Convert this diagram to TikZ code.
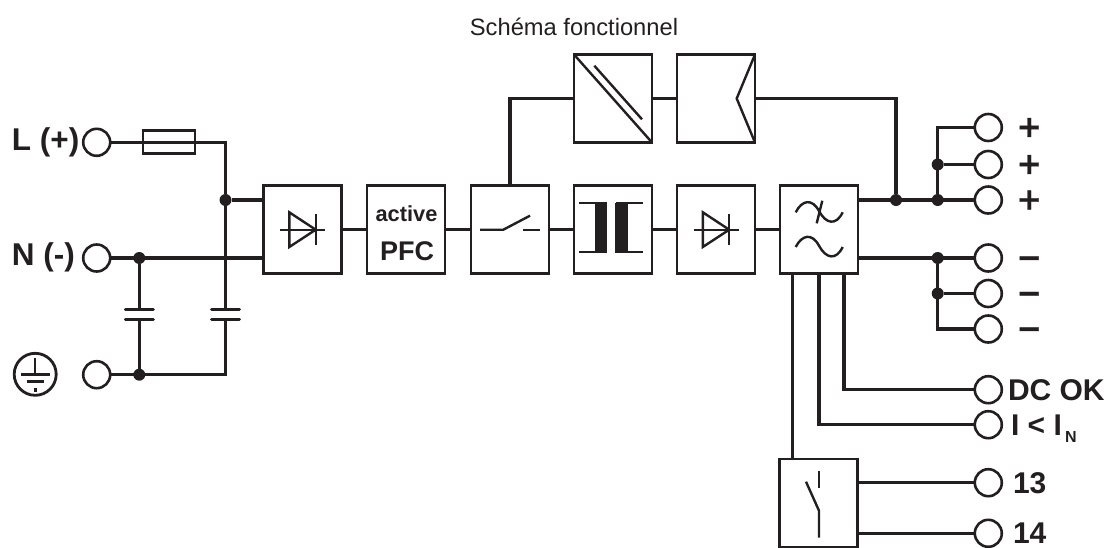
\documentclass[tikz,border=0pt]{standalone}
\usepackage{fontspec}
\setmainfont{Liberation Sans}
\newfontfamily\signfont[BoldFeatures={FakeBold=1.2}]{DejaVu Sans}
\newcommand{\fsz}[1]{\fontsize{#1}{#1}\selectfont}
\definecolor{ink}{HTML}{231F20}
\tikzset{
  wire/.style={line width=3.2pt,draw=ink,line join=miter},
  glyph/.style={line width=2.4pt,draw=ink},
  block/.style={draw=ink,line width=2.6pt,minimum width=78pt,minimum height=88pt,inner sep=0pt,outer sep=0pt},
  term/.style={circle,draw=ink,line width=2.6pt,minimum size=27pt,inner sep=0pt,outer sep=0pt},
  jn/.style={circle,fill=ink,minimum size=12pt,inner sep=0pt,outer sep=0pt},
  lab/.style={font=\bfseries\fsz{30},text=ink,anchor=base west,inner sep=0pt,outer sep=0pt},
  sign/.style={font=\signfont\bfseries\fsz{30},text=ink,anchor=center,inner sep=0pt,outer sep=0pt},
}
\begin{document}
\begin{tikzpicture}[x=1pt,y=-1pt]
\useasboundingbox (0,0) rectangle (1112,547);
% blocks
\node[block] (bridge) at (302.5,229.5) {};
\node[block] (pfc) at (406,229.5) {};
\node[block] (sw) at (510,229.5) {};
\node[block] (trafo) at (613,229.5) {};
\node[block] (diode) at (716,229.5) {};
\node[block] (filter) at (819,229.5) {};
\node[block] (dcdc) at (613,98.5) {};
\node[block] (rect) at (716,98.5) {};
\node[block] (relay) at (818.7,503) {};
\node[draw=ink,line width=2.6pt,minimum width=52pt,minimum height=23pt,inner sep=0pt,outer sep=0pt] (fuse) at (169,142) {};
% terminals
\node[term] (tL) at (96.7,142.3) {};
\node[term] (tN) at (96.7,258) {};
\node[term] (tE) at (96.7,374.7) {};
\node[term] (p1) at (988.3,127.5) {};
\node[term] (p2) at (988.3,164.5) {};
\node[term] (p3) at (988.3,200) {};
\node[term] (m1) at (988.3,258) {};
\node[term] (m2) at (988.3,293.5) {};
\node[term] (m3) at (988.3,329) {};
\node[term] (tDC) at (988.3,389.7) {};
\node[term] (tI) at (988.3,424.7) {};
\node[term] (t13) at (988.3,482.7) {};
\node[term] (t14) at (988.3,533.3) {};
% junctions
\node[jn] (jL) at (225.5,200) {};
\node[jn] (jN) at (139.3,258) {};
\node[jn] (jE) at (139.3,374.7) {};
\node[jn] (jT) at (896,200) {};
\node[jn] (jP) at (937.7,200) {};
\node[jn] (jP2) at (937.7,164.5) {};
\node[jn] (jM) at (937.7,258) {};
\node[jn] (jM2) at (937.7,293.5) {};
% capacitor plate anchors
\coordinate (c1a) at (139.3,309.3);
\coordinate (c1b) at (139.3,319);
\coordinate (c2a) at (225.5,309.3);
\coordinate (c2b) at (225.5,319);
\coordinate (cL) at (225.5,142.3);
\coordinate (cE) at (225.5,374.7);
% mains wiring
\draw[wire] (tL.east) -- (cL) -- (jL) -- (c2a);
\draw[wire] (jL) -- (jL -| bridge.west);
\draw[wire] (tN.east) -- (tN -| bridge.west);
\draw[wire] (jN) -- (c1a);
\draw[wire] (c1b) -- (jE);
\draw[wire] (c2b) -- (cE) -- (tE.east);
\foreach \c in {c1a,c1b,c2a,c2b} \draw[wire,line width=3pt,line cap=round] ([xshift=-14pt]\c) -- ([xshift=14pt]\c);
% chain
\draw[wire] (bridge.east) -- (pfc.west);
\draw[wire] (pfc.east) -- (sw.west);
\draw[wire] (sw.east) -- (trafo.west);
\draw[wire] (trafo.east) -- (diode.west);
\draw[wire] (diode.east) -- (filter.west);
\coordinate (cS) at (510,98.5);
\draw[wire] (sw.north) -- (cS) -- (dcdc.west);
\draw[wire] (dcdc.east) -- (rect.west);
\coordinate (cT) at (896,98.5);
\draw[wire] (rect.east) -- (cT) -- (jT);
% outputs
\draw[wire] (jT -| filter.east) -- (p3.west);
\coordinate (cP) at (937.7,127.5);
\draw[wire] (jP) -- (cP) -- (p1.west);
\draw[wire] (jP2) -- (p2.west);
\draw[wire] (m1 -| filter.east) -- (m1.west);
\coordinate (cM) at (937.7,329);
\draw[wire] (jM) -- (cM) -- (m3.west);
\draw[wire] (jM2) -- (m2.west);
% signals
\coordinate (fa) at (844,273.5);
\coordinate (fb) at (819,273.5);
\coordinate (cDC) at (844,389.7);
\coordinate (cI) at (819,424.7);
\coordinate (fc) at (792.7,273.5);
\draw[wire] (fa) -- (cDC) -- (tDC.west);
\draw[wire] (fb) -- (cI) -- (tI.west);
\draw[wire] (fc) -- (fc |- relay.north);
\draw[wire] (t13 -| relay.east) -- (t13.west);
\draw[wire] (t14 -| relay.east) -- (t14.west);
% diode glyphs
\foreach \dx in {0,413.5}{
  \draw[glyph,line join=miter] (289.3+\dx,212.3) -- (289.3+\dx,247) -- (315.7+\dx,229.7) -- cycle;
  \draw[glyph] (315.7+\dx,214) -- (315.7+\dx,244.7);
  \draw[glyph] (280+\dx,229.7) -- (325+\dx,229.7);
}
% switch glyph
\draw[glyph] (480,229.7) -- (503.3,229.7) -- (530,215.7);
\draw[glyph] (523.3,229.7) -- (540,229.7);
% dc-dc glyph
\draw[glyph] (dcdc.north west) -- (dcdc.south east);
\draw[glyph] (594.3,65.7) -- (642,119.3);
\draw[glyph] (rect.north east) -- (736.7,98.5) -- (rect.south east);
% transformer glyph
\fill[ink] (594.7,203) rectangle (607.3,252.5);
\fill[ink] (615.3,203) rectangle (628,252.5);
\draw[glyph] (579.3,203) -- (607,203);
\draw[glyph] (579.3,252) -- (607,252);
\draw[glyph] (616,203) -- (643,203);
\draw[glyph] (616,252) -- (643,252);
% filter glyph
\foreach \dy in {0,34.7}{
  \draw[glyph] (795.7,212.3+\dy) .. controls (802,200+\dy) and (812,198+\dy) .. (819,211+\dy)
     .. controls (826,224+\dy) and (836,226+\dy) .. (842.7,212.3+\dy);
}
\draw[glyph] (822.3,200.7) -- (816.7,223.3);
% relay glyph
\draw[glyph] (819,470.7) -- (819,488.3);
\draw[glyph] (806,481.7) -- (819,510.7) -- (819,537.7);
% earth symbol
\node[circle,draw=ink,line width=2.8pt,minimum size=42pt,inner sep=0pt] (earth) at (35.2,374.3) {};
\draw[glyph] (35.2,358) -- (35.2,374.7);
\draw[glyph,line width=3pt] (20.7,374.7) -- (50,374.7);
\draw[glyph,line width=3pt] (26.7,381.7) -- (44,381.7);
\fill[ink] (33.7,388.3) rectangle (36.9,391.7);
% labels
\node[font=\fsz{23.7},text=ink,anchor=base,inner sep=0pt] (title) at (574,35.5) {Schéma fonctionnel};
\node[font=\bfseries\fsz{21.8},text=ink,anchor=base,inner sep=0pt] (active) at (406.5,221.7) {active};
\node[font=\bfseries\fsz{27},text=ink,anchor=base,inner sep=0pt] (pfctxt) at (407,260) {PFC};
\node[lab,font=\bfseries\fsz{31.5}] (lL) at (12,150) {L (+)};
\node[lab,font=\bfseries\fsz{31.5}] (lN) at (12,265.5) {N (-)};
\node[lab] (lDC) at (1008,400) {DC OK};
\node[lab] (lI) at (1011,435) {I < I};
\node[font=\bfseries\fsz{16},text=ink,anchor=base west,inner sep=0pt] (lIN) at (1065,442) {N};
\node[lab] (l13) at (1013,493) {13};
\node[lab] (l14) at (1013,543) {14};
\foreach \n/\y in {a/127.5,b/164.5,c/200}
  \node[sign] (plus\n) at (1029.3,\y) {+};
\foreach \n/\y in {a/262,b/297.5,c/333}
  \node[sign] (minus\n) at (1029.3,\y) {−};
\end{tikzpicture}
\end{document}
